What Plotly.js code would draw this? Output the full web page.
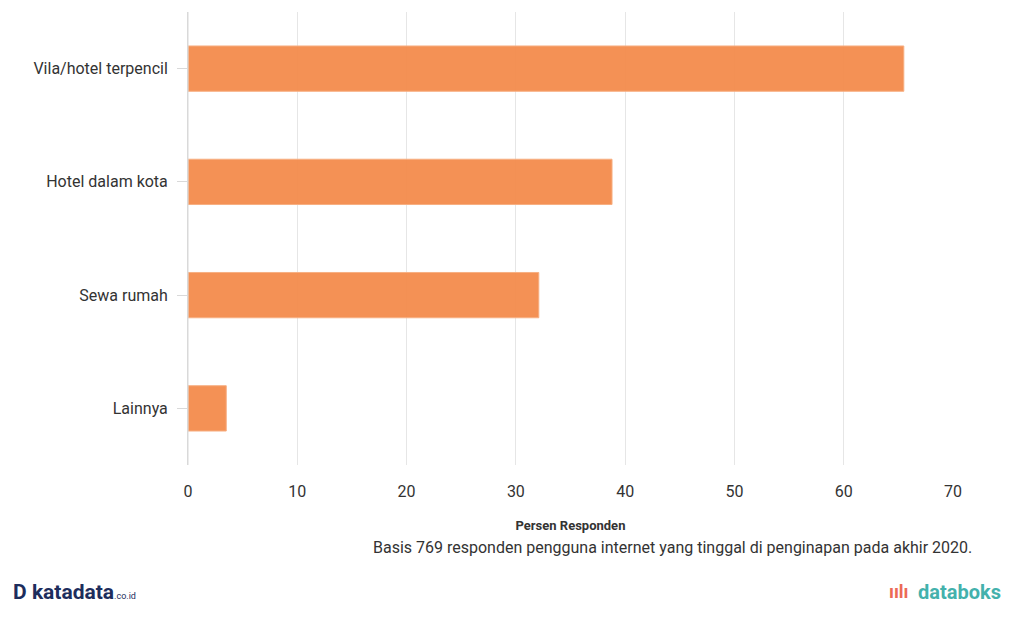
<!DOCTYPE html>
<html><head><meta charset="utf-8">
<script src="https://cdn.plot.ly/plotly-3.0.1.min.js"></script>
<style>html,body{margin:0;padding:0;background:#fff;}</style>
</head><body>
<div id="chart" style="width:1010px;height:621px;"></div>
<script>
const categories = ["Vila/hotel terpencil", "Hotel dalam kota", "Sewa rumah", "Lainnya"];
const values = [65.5, 38.8, 32.1, 3.5];
const xTicks = [0, 10, 20, 30, 40, 50, 60, 70];

const trace = {
  type: 'bar', orientation: 'h',
  x: values, y: categories,
  width: 0.4,
  marker: {color: 'rgba(243,139,76,0.95)', line: {color: 'rgba(247,175,130,1)', width: 1}},
  hoverinfo: 'x+y'
};
const layout = {
  width: 1010, height: 621,
  margin: {l: 188, r: 57, t: 12, b: 156},
  paper_bgcolor: '#fff', plot_bgcolor: '#fff',
  font: {family: 'Roboto, sans-serif', color: '#333'},
  showlegend: false,
  bargap: 0.6,
  xaxis: {
    range: [0, 70], tickvals: xTicks, ticktext: xTicks.map(String),
    showgrid: true, gridcolor: '#e6e6e6', gridwidth: 1,
    zeroline: false, showline: false, ticks: '',
    tickfont: {size: 16, color: '#333'}, ticklabelstandoff: 15,
    title: {text: '<b>Persen Responden</b>', font: {size: 13, color: '#333', family: 'Roboto, sans-serif'}, standoff: 20}
  },
  yaxis: {
    categoryorder: 'array', categoryarray: categories.slice().reverse(),
    autorange: true, showgrid: false, zeroline: false,
    showline: true, linecolor: '#d9d9d9', linewidth: 1,
    ticks: 'outside', ticklen: 10, tickcolor: '#d9d9d9',
    tickfont: {size: 16, color: '#333'}, ticklabelstandoff: 6
  },
  shapes: [
    {type: 'line', xref: 'x', yref: 'paper', x0: 0, x1: 0, y0: 0, y1: 1, line: {color: '#d9d9d9', width: 1}}
  ],
  annotations: [
    {text: 'Basis 769 responden pengguna internet yang tinggal di penginapan pada akhir 2020.', xref: 'paper', yref: 'paper', x: 1.027, y: -0.183, xanchor: 'right', yanchor: 'middle', showarrow: false, font: {size: 16, color: '#333'}},
    {text: '<b>D</b> <b>katadata</b><span style="font-size:9px">.co.id</span>', xref: 'paper', yref: 'paper', x: -0.232, y: -0.28, xanchor: 'left', yanchor: 'middle', showarrow: false, font: {size: 21, color: '#1d2d5c'}},
    {text: '<b>databoks</b>', xref: 'paper', yref: 'paper', x: 1.065, y: -0.28, xanchor: 'right', yanchor: 'middle', showarrow: false, font: {size: 20, color: '#43b1ac'}},
    {text: '<b>ıılı</b>', xref: 'paper', yref: 'paper', x: 0.945, y: -0.28, xanchor: 'right', yanchor: 'middle', showarrow: false, font: {size: 18, color: '#ec6a55'}}
  ]
};
Plotly.newPlot('chart', [trace], layout, {displayModeBar: false, staticPlot: true});
</script>
</body></html>
